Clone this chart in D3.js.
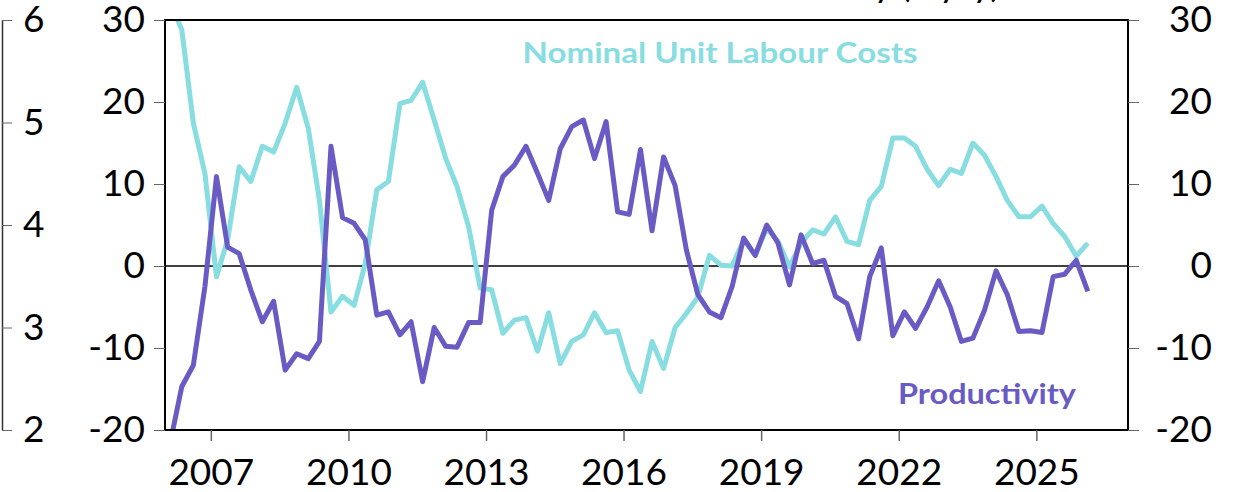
<!DOCTYPE html>
<html>
<head>
<meta charset="utf-8">
<script src="https://cdn.jsdelivr.net/npm/d3@7"></script>
<style>
  body { margin: 0; background: #fff; }
  svg { display: block; font-family: Lato, "Open Sans", sans-serif; }
  .tick text { font-size: 37px; fill: #000; font-family: Lato, "Open Sans", sans-serif; }
  .tick line { stroke: #666; }
</style>
</head>
<body>
<svg id="chart" width="1235" height="492"></svg>
<script>
// Quarterly data, 2006Q1 .. 2026Q1 (% y/y)
const quarters = [];
for (let y = 2006; y <= 2026; y++) {
  for (let q = 1; q <= 4; q++) {
    if (y === 2026 && q > 1) break;
    quarters.push(y + "Q" + q);
  }
}

const unitLabourCosts = [
  32.0, 28.8, 17.4, 11.3, -1.3, 3.2, 12.1, 10.3, 14.6, 13.9,
  17.4, 21.8, 16.8, 8.0, -5.6, -3.7, -4.8, 0.3, 9.3, 10.3,
  19.8, 20.2, 22.4, 17.8, 13.1, 9.7, 4.8, -2.7, -2.9, -8.2,
  -6.6, -6.3, -10.4, -5.7, -11.9, -9.2, -8.4, -5.7, -8.1, -7.9,
  -12.7, -15.3, -9.2, -12.5, -7.5, -5.8, -3.8, 1.3, 0.1, 0.0,
  3.2, 1.3, 4.6, 3.0, -0.1, 2.8, 4.4, 3.9, 6.0, 3.0,
  2.6, 8.0, 9.7, 15.6, 15.6, 14.6, 11.8, 9.8, 11.8, 11.3,
  15.0, 13.5, 10.9, 8.0, 6.0, 6.0, 7.3, 5.2, 3.6, 1.2,
  2.8
];

const productivity = [
  -21.3, -14.7, -12.1, -2.5, 10.9, 2.3, 1.5, -2.9, -6.8, -4.3,
  -12.7, -10.7, -11.3, -9.2, 14.6, 5.9, 5.2, 3.2, -6.0, -5.6,
  -8.4, -6.8, -14.1, -7.5, -9.8, -9.9, -6.9, -6.9, 6.8, 10.9,
  12.3, 14.6, 11.3, 8.0, 14.3, 17.0, 17.8, 13.1, 17.6, 6.6,
  6.3, 14.2, 4.3, 13.3, 9.8, 2.0, -3.5, -5.6, -6.3, -2.5,
  3.4, 1.3, 5.0, 2.8, -2.3, 3.8, 0.3, 0.7, -3.7, -4.6,
  -8.9, -1.3, 2.2, -8.5, -5.6, -7.6, -5.0, -1.8, -5.0, -9.2,
  -8.8, -5.4, -0.6, -3.5, -8.0, -7.9, -8.1, -1.3, -1.0, 0.7,
  -3.1
];

const yTicks = [-20, -10, 0, 10, 20, 30];
const farLeftTicks = [2, 3, 4, 5, 6];
const xTickYears = [2007, 2010, 2013, 2016, 2019, 2022, 2025];

const colors = { ulc: "#87dde0", prod: "#6a5bc4" };

// quarter label -> mid-quarter date
function quarterDate(s) {
  const y = +s.slice(0, 4), q = +s.slice(5);
  return new Date(y, (q - 1) * 3 + 1, 15);
}

const svg = d3.select("#chart");
const plot = { left: 165, right: 1128, top: 20, bottom: 430 };
const plain = d => String(d);  // hyphen minus, no decimals

const x = d3.scaleTime()
  .domain([new Date(2006, 0, 1), new Date(2027, 0, 1)])
  .range([plot.left, plot.right]);

const y = d3.scaleLinear()
  .domain([-20, 30])
  .range([plot.bottom, plot.top]);

const yFar = d3.scaleLinear()
  .domain([2, 6])
  .range([plot.bottom, plot.top]);

// clipped plot area
svg.append("defs").append("clipPath").attr("id", "clip")
  .append("rect")
  .attr("x", plot.left).attr("y", plot.top)
  .attr("width", plot.right - plot.left)
  .attr("height", plot.bottom - plot.top);

// zero line
svg.append("line")
  .attr("x1", plot.left).attr("x2", plot.right)
  .attr("y1", y(0)).attr("y2", y(0))
  .attr("stroke", "#000").attr("stroke-width", 1.5);

const line = vals => d3.line()
  .x((d, i) => x(quarterDate(quarters[i])))
  .y(d => y(d))(vals);

const g = svg.append("g").attr("clip-path", "url(#clip)");
g.append("path")
  .attr("d", line(unitLabourCosts))
  .attr("fill", "none").attr("stroke", colors.ulc)
  .attr("stroke-width", 5).attr("stroke-linejoin", "round");
g.append("path")
  .attr("d", line(productivity))
  .attr("fill", "none").attr("stroke", colors.prod)
  .attr("stroke-width", 5).attr("stroke-linejoin", "round");

// frame
svg.append("rect")
  .attr("x", plot.left).attr("y", plot.top)
  .attr("width", plot.right - plot.left)
  .attr("height", plot.bottom - plot.top)
  .attr("fill", "none").attr("stroke", "#000").attr("stroke-width", 2);

// far left axis (neighbouring panel)
const farAxis = svg.append("g")
  .attr("transform", "translate(2,0)")
  .call(d3.axisRight(yFar).tickValues(farLeftTicks).tickFormat(plain)
    .tickSize(10).tickSizeOuter(0).tickPadding(11));
farAxis.select(".domain").attr("stroke", "#333").attr("stroke-width", 1.5);

// inner left axis
const leftAxis = svg.append("g")
  .attr("transform", `translate(${plot.left},0)`)
  .call(d3.axisLeft(y).tickValues(yTicks).tickFormat(plain).tickSize(11).tickPadding(9));
leftAxis.select(".domain").remove();

// right axis, labels right-aligned
const rightAxis = svg.append("g")
  .attr("transform", `translate(${plot.right},0)`)
  .call(d3.axisRight(y).tickValues(yTicks).tickFormat(plain).tickSize(11));
rightAxis.select(".domain").remove();
rightAxis.selectAll(".tick text").attr("text-anchor", "end").attr("x", 84);

// bottom axis
const bottomAxis = svg.append("g")
  .attr("transform", `translate(0,${plot.bottom})`)
  .call(d3.axisBottom(x)
    .tickValues(xTickYears.map(yr => new Date(yr, 0, 1)))
    .tickFormat(d3.timeFormat("%Y"))
    .tickSize(11));
bottomAxis.select(".domain").remove();
bottomAxis.selectAll(".tick line").attr("stroke", "#000").attr("stroke-width", 1.5);
bottomAxis.selectAll(".tick text").attr("dy", 0).attr("y", 55);

svg.selectAll(".tick text").attr("font-family", null);
svg.selectAll("g").filter(function () { return this.getAttribute("font-family"); })
  .attr("font-family", null).attr("font-size", null);

// series labels
svg.append("text")
  .attr("x", 720).attr("y", 63)
  .attr("text-anchor", "middle")
  .attr("textLength", 395).attr("lengthAdjust", "spacingAndGlyphs")
  .style("font-size", "29px").style("font-weight", "bold")
  .attr("fill", colors.ulc)
  .text("Nominal Unit Labour Costs");

svg.append("text")
  .attr("x", 987).attr("y", 404)
  .attr("text-anchor", "middle")
  .attr("textLength", 178).attr("lengthAdjust", "spacingAndGlyphs")
  .style("font-size", "29px").style("font-weight", "bold")
  .attr("fill", colors.prod)
  .text("Productivity");

// title, mostly above the visible area
svg.append("text")
  .attr("x", 1000).attr("y", -3)
  .attr("text-anchor", "end")
  .style("font-size", "36px")
  .attr("fill", "#000")
  .text("Unit Labour Costs and Productivity (%y/y)");
</script>
</body>
</html>
